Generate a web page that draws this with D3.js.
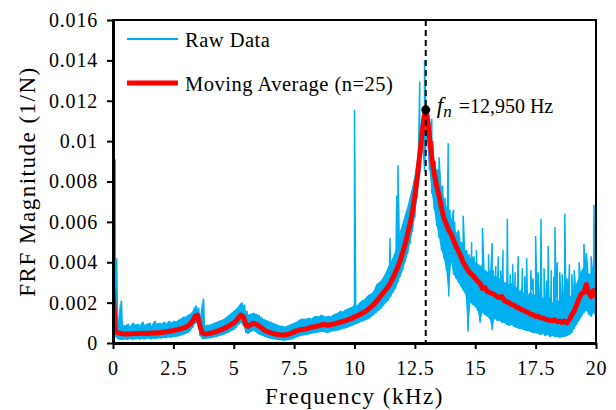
<!DOCTYPE html>
<html>
<head>
<meta charset="utf-8">
<script src="https://cdn.jsdelivr.net/npm/d3@7"></script>
<style>
  body { margin: 0; background: #fff; }
</style>
</head>
<body>
<div id="chart"></div>
<script>
// values in units of 0.001 1/N, frequency grid step 0.1 kHz (0 .. 20)
const step = 0.1;

// raw data: lower and upper edge of the noisy band at each grid step
const rawLo = [
  2.0, 0.3, 0.2, 0.15, 0.15, 0.18, 0.15, 0.2, 0.16, 0.18,
  0.2, 0.17, 0.2, 0.18, 0.22, 0.2, 0.18, 0.22, 0.2, 0.24,
  0.22, 0.25, 0.24, 0.28, 0.26, 0.3, 0.3, 0.34, 0.36, 0.4,
  0.45, 0.5, 0.6, 0.75, 0.95, 1.0, 0.35, 0.2, 0.2, 0.22,
  0.22, 0.25, 0.28, 0.3, 0.35, 0.38, 0.42, 0.48, 0.52, 0.6,
  0.65, 0.75, 0.9, 1.0, 0.85, 0.5, 0.45, 0.55, 0.6, 0.55,
  0.45, 0.4, 0.35, 0.3, 0.25, 0.22, 0.2, 0.18, 0.15, 0.15,
  0.12, 0.12, 0.14, 0.15, 0.18, 0.22, 0.28, 0.32, 0.36, 0.38,
  0.4, 0.42, 0.45, 0.48, 0.5, 0.52, 0.55, 0.55, 0.52, 0.5,
  0.55, 0.58, 0.6, 0.62, 0.65, 0.7, 0.72, 0.75, 0.8, 0.85,
  0.9, 0.95, 1.0, 1.05, 1.1, 1.15, 1.2, 1.3, 1.4, 1.5,
  1.6, 1.7, 1.85, 2.0, 2.1, 2.3, 2.5, 2.7, 3.0, 3.3,
  3.6, 4.0, 4.4, 4.9, 5.5, 6.2, 7.2, 8.4, 9.6, 8.5,
  10.0, 8.6, 7.4, 6.6, 5.8, 5.2, 4.6, 4.2, 3.6, 2.3,
  4.0, 3.4, 3.2, 3.0, 2.8, 2.6, 2.4, 0.56, 2.0, 1.9,
  1.8, 1.6, 1.0, 1.5, 1.4, 1.3, 1.2, 0.65, 1.2, 1.1,
  1.1, 1.0, 1.0, 0.9, 0.85, 0.9, 0.8, 0.75, 0.7, 0.7,
  0.65, 0.6, 0.6, 0.55, 0.5, 0.5, 0.45, 0.4, 0.45, 0.35,
  0.4, 0.3, 0.35, 0.3, 0.3, 0.25, 0.3, 0.3, 0.35, 0.4,
  0.5, 0.7, 0.9, 1.1, 1.3, 1.5, 1.6, 1.4, 1.3, 1.5,
  1.3
];
const rawHi = [
  4.2, 4.2, 1.0, 2.1, 0.9, 0.85, 0.95, 0.8, 1.0, 0.9,
  0.95, 0.85, 1.05, 0.9, 0.95, 1.0, 0.85, 1.1, 0.95, 1.0,
  0.95, 1.05, 0.95, 1.1, 1.0, 1.1, 1.05, 1.15, 1.2, 1.3,
  1.3, 1.4, 1.45, 1.6, 1.85, 1.75, 1.25, 2.2, 0.85, 0.9,
  0.9, 0.95, 1.0, 1.05, 1.1, 1.15, 1.2, 1.3, 1.4, 1.5,
  1.6, 1.7, 1.85, 2.0, 1.9, 1.6, 1.4, 1.45, 1.5, 1.45,
  1.4, 1.3, 1.2, 1.15, 1.1, 1.05, 1.0, 0.95, 0.9, 0.85,
  0.85, 0.8, 0.85, 0.9, 0.95, 1.0, 1.05, 1.15, 1.2, 1.2,
  1.2, 1.25, 1.2, 1.3, 1.35, 1.3, 1.4, 1.35, 1.3, 1.35,
  1.3, 1.4, 1.45, 1.5, 1.6, 1.55, 1.65, 1.7, 1.75, 1.8,
  1.9, 1.85, 2.0, 2.1, 2.15, 2.3, 2.4, 2.45, 2.6, 2.9,
  3.0, 3.1, 3.3, 3.5, 3.8, 4.0, 4.3, 4.6, 5.2, 5.6,
  6.0, 6.4, 6.8, 7.3, 7.8, 8.4, 9.2, 10.5, 11.4, 11.8,
  11.6, 10.8, 10.0, 9.0, 8.6, 8.2, 7.8, 7.2, 6.8, 6.6,
  6.2, 6.0, 5.5, 5.2, 5.0, 4.8, 4.6, 4.4, 4.2, 4.3,
  4.0, 3.9, 3.8, 3.9, 3.6, 3.5, 3.6, 3.6, 3.3, 3.3,
  3.2, 3.4, 3.0, 3.0, 2.9, 3.0, 2.7, 2.8, 2.6, 2.6,
  2.5, 2.7, 2.4, 2.6, 2.3, 2.5, 2.3, 2.4, 2.2, 2.3,
  2.1, 2.3, 2.0, 2.2, 2.1, 2.0, 2.2, 2.0, 2.1, 2.3,
  2.4, 2.7, 3.0, 3.3, 3.6, 3.8, 3.7, 3.4, 3.5, 4.0,
  3.6
];
// isolated spikes in the raw data: [kHz, value]
const rawSpikes = [
  [0.09, 9.1],
  [10.0, 11.55], [11.47, 5.2], [11.75, 7.3], [11.8, 8.8], [12.15, 5.0],
  [12.7, 12.95], [12.9, 14.0], [13.2, 11.1], [13.5, 9.2], [13.88, 9.9],
  [14.1, 6.6], [14.3, 5.6], [14.5, 6.3], [14.85, 5.0], [15.05, 4.6],
  [15.15, 3.9], [15.3, 5.7], [15.55, 4.4], [15.7, 4.95], [15.85, 3.8],
  [15.95, 4.3], [16.05, 3.6], [16.15, 4.6], [16.33, 6.15], [16.45, 3.4],
  [16.55, 3.9], [16.65, 3.5], [16.78, 4.3], [16.95, 3.7], [17.05, 3.3],
  [17.13, 4.2], [17.3, 3.6], [17.4, 3.2], [17.5, 5.3], [17.6, 3.5],
  [17.72, 6.15], [17.85, 3.7], [17.95, 3.1], [18.02, 4.8], [18.15, 3.6],
  [18.25, 3.3], [18.3, 5.75], [18.4, 4.0], [18.5, 3.5], [18.6, 3.4],
  [18.71, 6.4], [18.8, 3.2], [18.9, 3.9], [19.0, 3.4], [19.1, 3.6],
  [19.3, 4.0], [19.5, 4.9], [19.6, 4.45], [19.8, 4.3], [19.92, 6.85]
];
// moving average (n=25) at each grid step
const movAvg = [
  2.7, 0.6, 0.5, 0.48, 0.46, 0.45, 0.45, 0.46, 0.46, 0.47,
  0.47, 0.47, 0.48, 0.48, 0.47, 0.48, 0.49, 0.5, 0.5, 0.51,
  0.52, 0.54, 0.55, 0.57, 0.59, 0.62, 0.64, 0.67, 0.7, 0.74,
  0.78, 0.85, 0.95, 1.1, 1.32, 1.38, 0.85, 0.5, 0.45, 0.46,
  0.48, 0.5, 0.54, 0.58, 0.62, 0.66, 0.72, 0.78, 0.85, 0.92,
  1.0, 1.1, 1.25, 1.38, 1.3, 0.9, 0.82, 0.9, 0.98, 0.95,
  0.88, 0.8, 0.7, 0.62, 0.56, 0.52, 0.48, 0.45, 0.43, 0.41,
  0.4, 0.4, 0.42, 0.45, 0.5, 0.55, 0.6, 0.64, 0.67, 0.68,
  0.7, 0.74, 0.78, 0.8, 0.82, 0.85, 0.88, 0.92, 0.9, 0.88,
  0.9, 0.93, 0.96, 1.0, 1.03, 1.06, 1.1, 1.14, 1.18, 1.22,
  1.3, 1.33, 1.4, 1.46, 1.53, 1.6, 1.7, 1.8, 1.92, 2.05,
  2.2, 2.35, 2.5, 2.65, 2.8, 3.0, 3.25, 3.5, 3.8, 4.1,
  4.5, 4.9, 5.4, 5.9, 6.5, 7.3, 8.2, 9.3, 10.4, 11.3,
  11.3, 10.3, 9.2, 8.4, 7.8, 7.3, 6.7, 6.2, 5.9, 5.6,
  5.4, 5.1, 4.8, 4.55, 4.3, 4.0, 3.8, 3.6, 3.45, 3.35,
  3.2, 3.05, 2.95, 2.7, 2.75, 2.55, 2.5, 2.45, 2.4, 2.3,
  2.25, 2.3, 2.1, 2.05, 2.0, 1.9, 1.88, 1.78, 1.75, 1.65,
  1.62, 1.55, 1.52, 1.42, 1.4, 1.32, 1.32, 1.25, 1.24, 1.18,
  1.15, 1.12, 1.1, 1.15, 1.05, 1.08, 1.02, 1.1, 1.0, 1.15,
  1.4, 1.6, 1.9, 2.2, 2.45, 2.5, 2.9, 2.5, 2.3, 2.6,
  2.3
];
const naturalFreq = 12.95;   // kHz
const naturalMag = 11.55;
const xTicks = [0, 2.5, 5, 7.5, 10, 12.5, 15, 17.5, 20];
const yTicks = [0, 2, 4, 6, 8, 10, 12, 14, 16];
const yTickLabels = ["0", "0.002", "0.004", "0.006", "0.008", "0.01", "0.012", "0.014", "0.016"];

const W = 616, H = 410;
const margin = { top: 20, right: 20, bottom: 67, left: 113 };
const serif = "'Liberation Serif', 'Times New Roman', serif";

const svg = d3.select("#chart").append("svg")
  .attr("width", W).attr("height", H);

const x = d3.scaleLinear().domain([0, 20]).range([margin.left, W - margin.right]);
const y = d3.scaleLinear().domain([0, 16]).range([H - margin.bottom, margin.top]);

svg.append("clipPath").attr("id", "plot")
  .append("rect")
  .attr("x", x(0)).attr("y", y(16))
  .attr("width", x(20) - x(0)).attr("height", y(0) - y(16));

const band = rawLo.map((lo, i) => ({ f: i * step, lo: lo, hi: rawHi[i] }));

// raw trace: zigzag between lower and upper edge, spikes merged in
let rawPts = [];
band.forEach(d => {
  rawPts.push([d.f, d.lo]);
  rawPts.push([Math.min(d.f + step / 2, 20), d.hi]);
});
rawSpikes.forEach(s => rawPts.push(s));
rawPts.sort((a, b) => a[0] - b[0]);

const line = d3.line().x(d => x(d[0])).y(d => y(d[1]));

const g = svg.append("g").attr("clip-path", "url(#plot)");

g.append("path")
  .datum(band)
  .attr("d", d3.area().x(d => x(d.f)).y0(d => y(d.lo)).y1(d => y(d.hi)))
  .attr("fill", "#00b0f0");

g.append("path")
  .datum(rawPts)
  .attr("d", line)
  .attr("fill", "none")
  .attr("stroke", "#00b0f0")
  .attr("stroke-width", 1.5);

g.append("path")
  .datum(movAvg.map((v, i) => [i * step, v]))
  .attr("d", line)
  .attr("fill", "none")
  .attr("stroke", "#ff0000")
  .attr("stroke-width", 5)
  .attr("stroke-linejoin", "round");

// natural frequency marker
svg.append("line")
  .attr("x1", x(naturalFreq)).attr("x2", x(naturalFreq))
  .attr("y1", y(16)).attr("y2", y(0))
  .attr("stroke", "#000").attr("stroke-width", 2)
  .attr("stroke-dasharray", "6,4");

svg.append("circle")
  .attr("cx", x(naturalFreq)).attr("cy", y(naturalMag))
  .attr("r", 4.5).attr("fill", "#000");

const ann = svg.append("text")
  .attr("x", x(naturalFreq) + 11).attr("y", y(naturalMag) + 3)
  .style("font-family", serif).style("font-size", "20px");
ann.append("tspan").style("font-style", "italic").style("font-size", "23px").text("f");
ann.append("tspan").style("font-style", "italic").style("font-size", "17px").attr("dy", 4).text("n");
ann.append("tspan").attr("dy", -4).attr("dx", 7).text("=12,950 Hz");

// frame
svg.append("rect")
  .attr("x", x(0)).attr("y", y(16))
  .attr("width", x(20) - x(0)).attr("height", y(0) - y(16))
  .attr("fill", "none").attr("stroke", "#000").attr("stroke-width", 2);

// axes
const xAxis = svg.append("g")
  .attr("transform", `translate(0,${y(0)})`)
  .call(d3.axisBottom(x).tickValues(xTicks).tickSize(6).tickSizeOuter(0)
    .tickFormat(d => String(d)));
const yAxis = svg.append("g")
  .attr("transform", `translate(${x(0)},0)`)
  .call(d3.axisLeft(y).tickValues(yTicks).tickSize(6).tickSizeOuter(0).tickPadding(9)
    .tickFormat((d, i) => yTickLabels[i]));

[xAxis, yAxis].forEach(a => {
  a.select(".domain").attr("stroke", "#000").attr("stroke-width", 3);
  a.selectAll(".tick line").attr("stroke", "#000").attr("stroke-width", 2);
  a.selectAll(".tick text")
    .style("font-family", serif).style("font-size", "20px")
    .style("letter-spacing", "0.8px").attr("fill", "#000");
});
xAxis.selectAll(".tick text").attr("y", 18).attr("dy", "0.71em");

svg.append("text")
  .attr("x", (x(0) + x(20)) / 2).attr("y", 404)
  .attr("text-anchor", "middle")
  .style("font-family", serif).style("font-size", "23px")
  .style("letter-spacing", "1.5px")
  .text("Frequency (kHz)");

svg.append("text")
  .attr("transform", `translate(35,${(y(0) + y(16)) / 2}) rotate(-90)`)
  .attr("text-anchor", "middle")
  .style("font-family", serif).style("font-size", "23px")
  .style("letter-spacing", "1.5px")
  .text("FRF Magnitude (1/N)");

// legend
const legend = [
  { label: "Raw Data", color: "#00b0f0", width: 2 },
  { label: "Moving Average (n=25)", color: "#ff0000", width: 5 }
];
legend.forEach((d, i) => {
  const ly = 39 + i * 44;
  svg.append("line")
    .attr("x1", 127).attr("x2", 178).attr("y1", ly).attr("y2", ly)
    .attr("stroke", d.color).attr("stroke-width", d.width);
  svg.append("text")
    .attr("x", 185).attr("y", ly + 8)
    .style("font-family", serif).style("font-size", "20.5px")
    .style("letter-spacing", "0.5px")
    .text(d.label);
});
</script>
</body>
</html>
